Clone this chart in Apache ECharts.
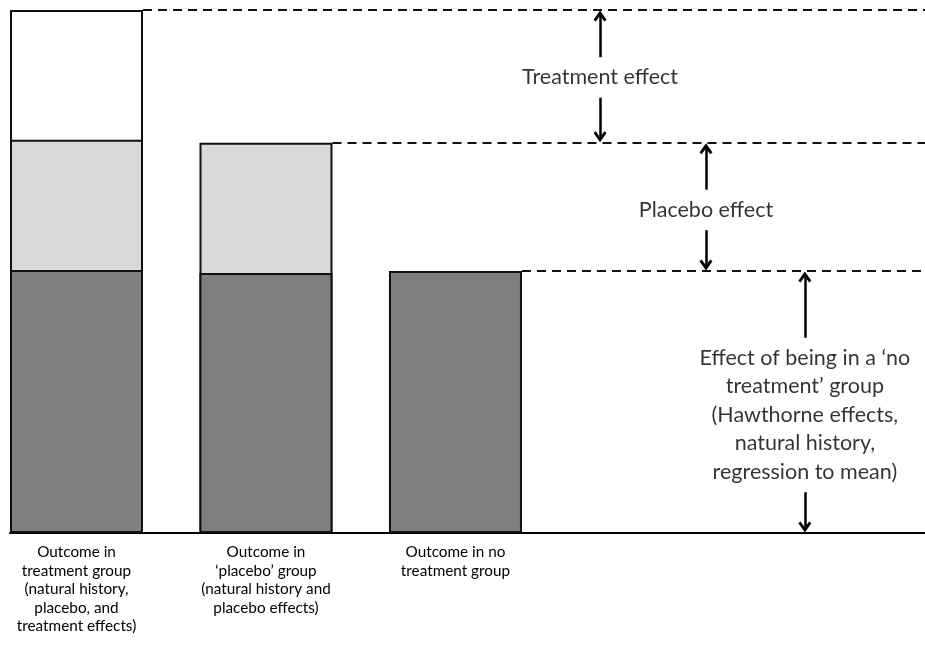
<!DOCTYPE html>
<html>
<head>
<meta charset="utf-8">
<script src="https://cdn.jsdelivr.net/npm/echarts@6/dist/echarts.min.js"></script>
<style>html,body{margin:0;padding:0;background:#fff}#c{width:925px;height:645px}</style>
</head>
<body>
<div id="c"></div>
<script>
// ---- data ----
const categories = [
  'Outcome in\ntreatment group\n(natural history,\nplacebo, and\ntreatment effects)',
  'Outcome in\n‘placebo’ group\n(natural history and\nplacebo effects)',
  'Outcome in no\ntreatment group'
];
const naturalHistory = [50.3, 49.7, 50.1];
const placeboEffect = [24.9, 24.9, null];
const treatmentEffect = [24.8, null, null];
const effectLabels = [
  'Treatment effect',
  'Placebo effect',
  'Effect of being in a ‘no\ntreatment’ group\n(Hawthorne effects,\nnatural history,\nregression to mean)'
];

// ---- layout constants ----
const X_MIN = -0.351, X_MAX = 4.478, Y_MAX = 100;
const GRID = {left: 10, right: 0, top: 10, bottom: 112};
const PX_PER_UNIT = (645 - GRID.top - GRID.bottom) / Y_MAX;
const BAR_W = 133, BAR_HALF = 0.351;
const ARROW_X = [2.763, 3.322, 3.844];
const MID_SHIFT_PX = [-1, -3, -13];
const LINE_H = 28.5;
const FONT = 'Lato, "Open Sans", sans-serif';
const u = px => px / PX_PER_UNIT;

const totals = naturalHistory.map((v, i) => v + (placeboEffect[i] || 0) + (treatmentEffect[i] || 0));
const whiteData = [], lightData = [], darkData = [];
naturalHistory.forEach((v, i) => {
  if (treatmentEffect[i] != null) whiteData.push([i, totals[i]]);
  if (placeboEffect[i] != null) lightData.push([i, v + placeboEffect[i]]);
  darkData.push([i, v]);
});

const dashed = totals.map((t, i) => [
  {coord: [i + BAR_HALF, t]},
  {coord: [X_MAX, t]}
]);

const arrowPath = 'path://M5,0 L10,7.4 L8.3,8.8 L5,4.1 L1.7,8.8 L0,7.4 Z';
const arrows = [], texts = [];
effectLabels.forEach((lab, k) => {
  const upper = totals[k];
  const lower = k < totals.length - 1 ? totals[k + 1] : 0;
  const mid = (upper + lower) / 2 + u(MID_SHIFT_PX[k]);
  const lines = lab.split('\n').length;
  const half = u((lines * LINE_H + 12) / 2);
  const x = ARROW_X[k];
  arrows.push([{coord: [x, mid + half]}, {coord: [x, upper - u(6)]}]);
  arrows.push([{coord: [x, mid - half]}, {coord: [x, lower + u(6)]}]);
  texts.push({name: lab, value: [x, mid]});
});

const barBase = {
  type: 'bar', barWidth: BAR_W, barGap: '-100%', clip: false,
  animation: false, silent: true
};
const chart = echarts.init(document.getElementById('c'));
chart.setOption({
  animation: false,
  grid: GRID,
  xAxis: {
    type: 'value', min: X_MIN, max: X_MAX,
    axisLine: {show: true, lineStyle: {color: '#000', width: 2}},
    axisTick: {show: false}, axisLabel: {show: false}, splitLine: {show: false}
  },
  yAxis: {
    type: 'value', min: 0, max: Y_MAX,
    axisLine: {show: false}, axisTick: {show: false}, axisLabel: {show: false}, splitLine: {show: false}
  },
  series: [
    Object.assign({}, barBase, {name: 'Treatment', data: whiteData,
      itemStyle: {color: '#ffffff', borderColor: '#111', borderWidth: 2}}),
    Object.assign({}, barBase, {name: 'Placebo', data: lightData,
      itemStyle: {color: '#d9d9d9', borderColor: '#111', borderWidth: 2}}),
    Object.assign({}, barBase, {name: 'Natural', data: darkData,
      itemStyle: {color: '#7f7f7f', borderColor: '#111', borderWidth: 2},
      label: {show: true, position: 'bottom', distance: 10,
        formatter: p => categories[p.dataIndex],
        fontFamily: FONT, fontSize: 15.3, lineHeight: 18.5, color: '#000', align: 'center'}}),
    {
      type: 'scatter', symbolSize: 0, silent: true, data: texts,
      label: {show: true, position: 'inside', formatter: p => p.name,
        fontFamily: FONT, fontSize: 21.5, lineHeight: LINE_H, color: '#000', align: 'center'},
      markLine: {
        silent: true, animation: false, symbol: ['none', 'none'], label: {show: false},
        lineStyle: {color: '#111', width: 2, type: [9, 6]},
        data: dashed
      }
    },
    {
      type: 'scatter', symbolSize: 0, silent: true, data: [],
      markLine: {
        silent: true, animation: false, symbol: ['none', arrowPath], symbolSize: [13, 11],
        label: {show: false},
        lineStyle: {color: '#000', width: 2.5, type: 'solid'},
        itemStyle: {color: '#000'},
        data: arrows
      }
    }
  ]
});
</script>
</body>
</html>
